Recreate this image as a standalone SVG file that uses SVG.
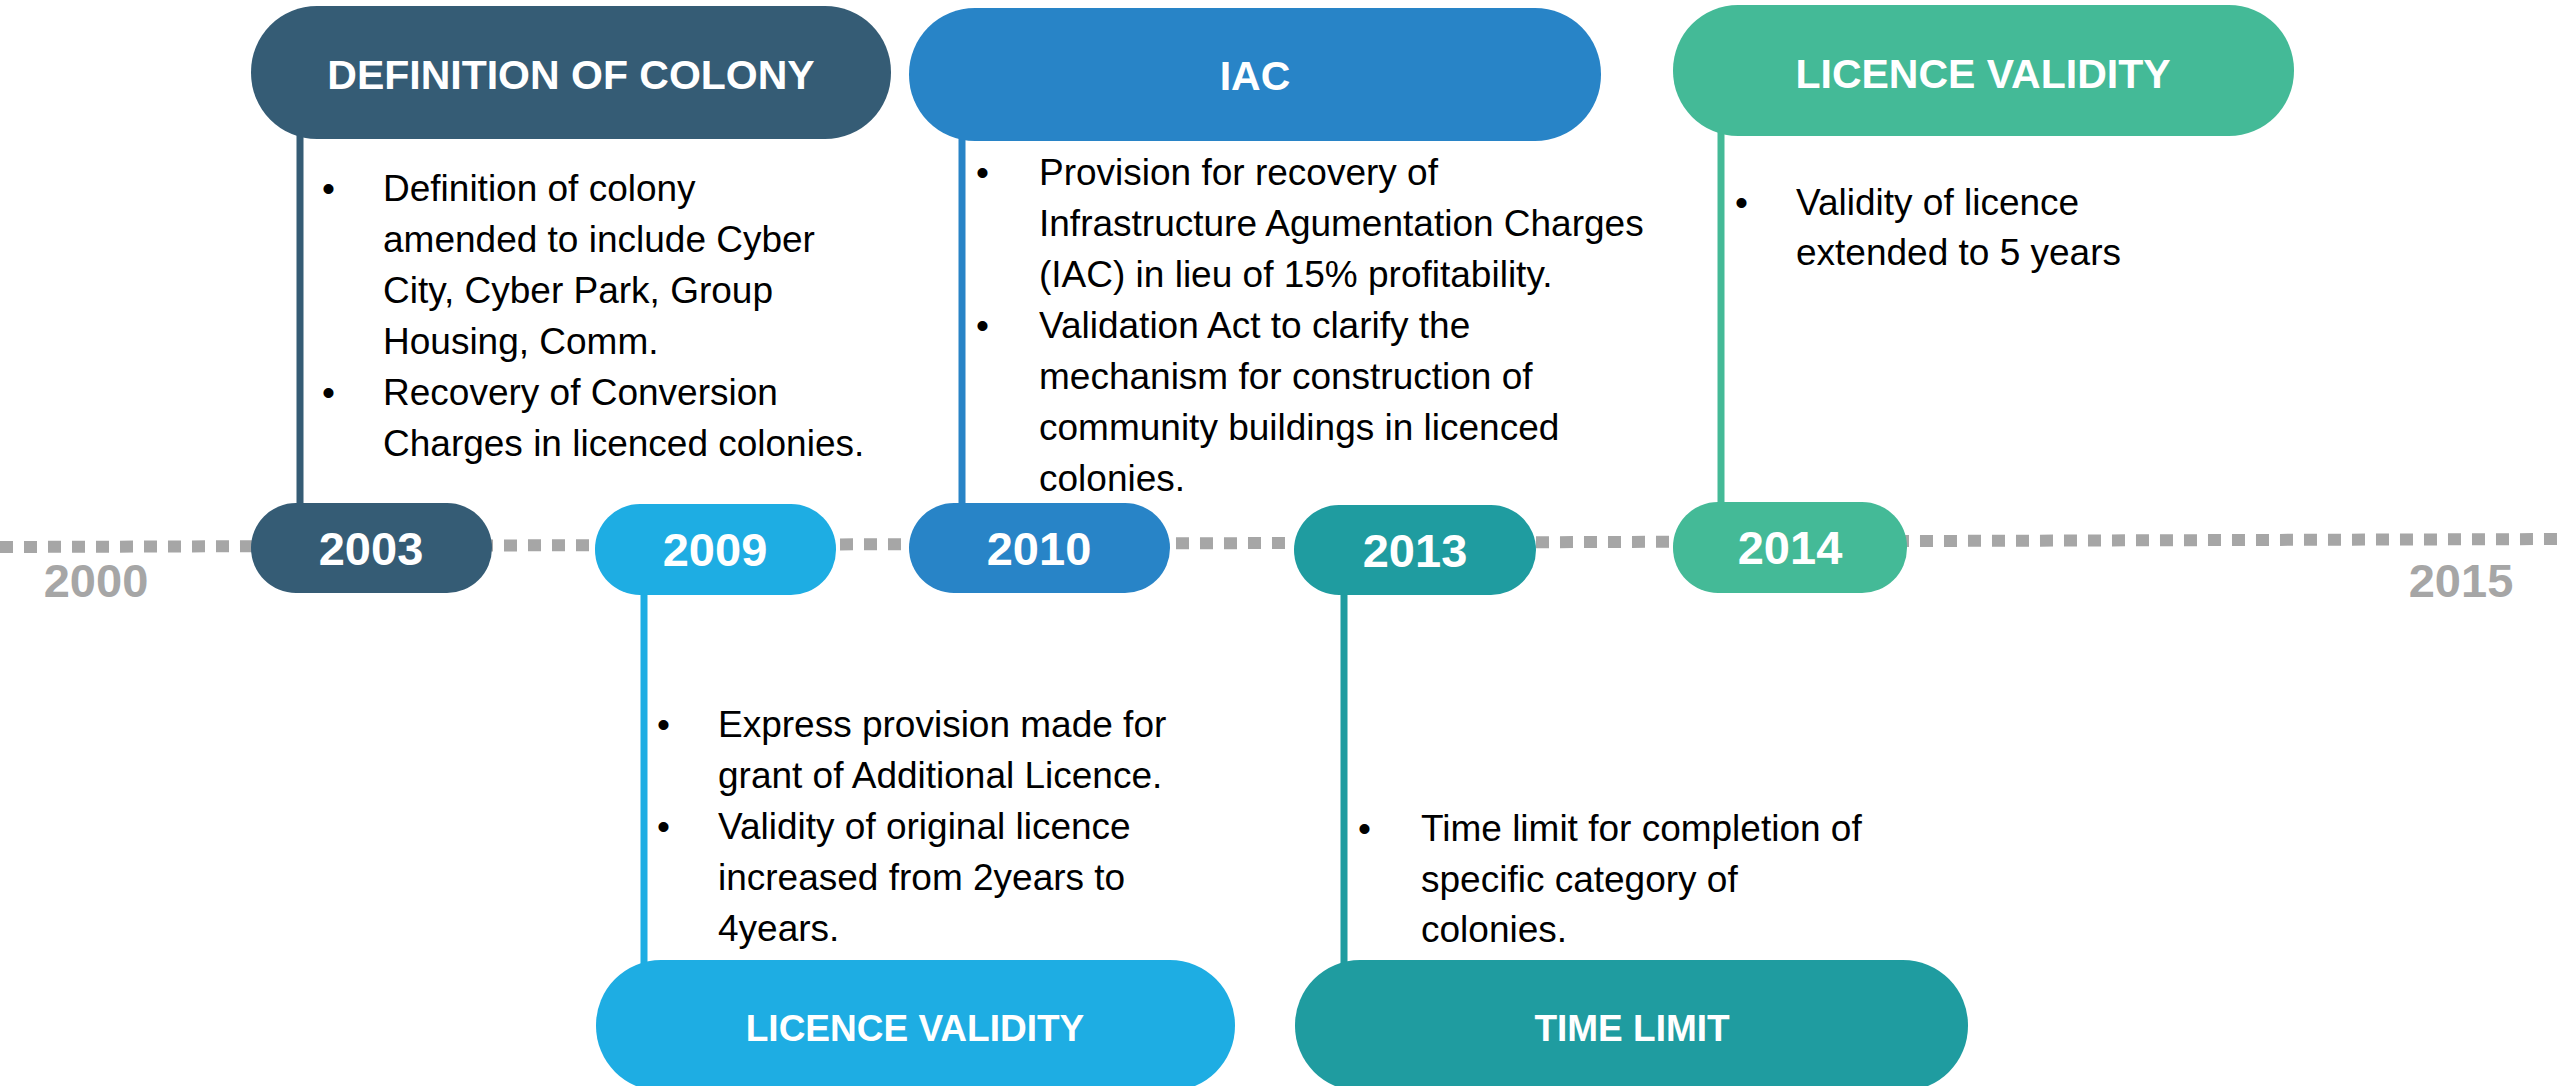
<svg xmlns="http://www.w3.org/2000/svg" width="2560" height="1086" viewBox="0 0 2560 1086">
<style>
.body{font-family:"Liberation Sans",Arial,sans-serif;font-size:37px;fill:#000}
.title{font-family:"Liberation Sans",Arial,sans-serif;font-weight:bold;font-size:41px;fill:#fff;text-anchor:middle}
.btitle{font-family:"Liberation Sans",Arial,sans-serif;font-weight:bold;font-size:37px;fill:#fff;text-anchor:middle}
.year{font-family:"Liberation Sans",Arial,sans-serif;font-weight:bold;font-size:47px;fill:#fff;text-anchor:middle}
.axis{font-family:"Liberation Sans",Arial,sans-serif;font-weight:bold;font-size:47px;fill:#A6A6A6;text-anchor:middle}
.c1{fill:#355C75}.c2{fill:#1EADE3}.c3{fill:#2884C7}.c4{fill:#1F9CA0}.c5{fill:#44BA97}
.l1{stroke:#355C75}.l2{stroke:#1EADE3}.l3{stroke:#2884C7}.l4{stroke:#1F9CA0}.l5{stroke:#44BA97}
.vl{stroke-width:7;fill:none}
</style>
<rect width="2560" height="1086" fill="#fff"/>
<g id="timeline">
<line x1="0" y1="547" x2="2560" y2="539" stroke="#A6A6A6" stroke-width="12" stroke-dasharray="13 11"/>
<text class="axis" x="96" y="597">2000</text>
<text class="axis" x="2461" y="597">2015</text>
</g>
<g id="connectors">
<line class="vl l1" x1="300" y1="130" x2="300" y2="510"/>
<line class="vl l3" x1="962" y1="130" x2="962" y2="510"/>
<line class="vl l5" x1="1721" y1="130" x2="1721" y2="510"/>
<line class="vl l2" x1="644" y1="590" x2="644" y2="965"/>
<line class="vl l4" x1="1344" y1="590" x2="1344" y2="965"/>
</g>
<g id="node-2003">
<rect class="c1" x="251" y="6" width="640" height="133" rx="66"/>
<text class="title" x="571" y="89">DEFINITION OF COLONY</text>
<rect class="c1" x="251" y="503" width="241" height="90" rx="45"/>
<text class="year" x="371" y="565">2003</text>
<text class="body" x="322" y="201">•</text>
<text class="body" x="383" y="201">Definition of colony</text>
<text class="body" x="383" y="252">amended to include Cyber</text>
<text class="body" x="383" y="303">City, Cyber Park, Group</text>
<text class="body" x="383" y="354">Housing, Comm.</text>
<text class="body" x="322" y="405">•</text>
<text class="body" x="383" y="405">Recovery of Conversion</text>
<text class="body" x="383" y="456">Charges in licenced colonies.</text>
</g>
<g id="node-2009">
<rect class="c2" x="595" y="504" width="241" height="91" rx="45"/>
<text class="year" x="715" y="566">2009</text>
<rect class="c2" x="596" y="960" width="639" height="131" rx="65"/>
<text class="btitle" x="915" y="1041">LICENCE VALIDITY</text>
<text class="body" x="657" y="737">•</text>
<text class="body" x="718" y="737">Express provision made for</text>
<text class="body" x="718" y="788">grant of Additional Licence.</text>
<text class="body" x="657" y="839">•</text>
<text class="body" x="718" y="839">Validity of original licence</text>
<text class="body" x="718" y="890">increased from 2years to</text>
<text class="body" x="718" y="941">4years.</text>
</g>
<g id="node-2010">
<rect class="c3" x="909" y="8" width="692" height="133" rx="66"/>
<text class="title" x="1255" y="90">IAC</text>
<rect class="c3" x="909" y="503" width="261" height="90" rx="45"/>
<text class="year" x="1039" y="565">2010</text>
<text class="body" x="976" y="185">•</text>
<text class="body" x="1039" y="185">Provision for recovery of</text>
<text class="body" x="1039" y="236">Infrastructure Agumentation Charges</text>
<text class="body" x="1039" y="287">(IAC) in lieu of 15% profitability.</text>
<text class="body" x="976" y="338">•</text>
<text class="body" x="1039" y="338">Validation Act to clarify the</text>
<text class="body" x="1039" y="389">mechanism for construction of</text>
<text class="body" x="1039" y="440">community buildings in licenced</text>
<text class="body" x="1039" y="491">colonies.</text>
</g>
<g id="node-2013">
<rect class="c4" x="1294" y="505" width="242" height="90" rx="45"/>
<text class="year" x="1415" y="567">2013</text>
<rect class="c4" x="1295" y="960" width="673" height="131" rx="65"/>
<text class="btitle" x="1632" y="1041">TIME LIMIT</text>
<text class="body" x="1358" y="841">•</text>
<text class="body" x="1421" y="841">Time limit for completion of</text>
<text class="body" x="1421" y="892">specific category of</text>
<text class="body" x="1421" y="942">colonies.</text>
</g>
<g id="node-2014">
<rect class="c5" x="1673" y="5" width="621" height="131" rx="65"/>
<text class="title" x="1983" y="88">LICENCE VALIDITY</text>
<rect class="c5" x="1673" y="502" width="234" height="91" rx="45"/>
<text class="year" x="1790" y="564">2014</text>
<text class="body" x="1735" y="215">•</text>
<text class="body" x="1796" y="215">Validity of licence</text>
<text class="body" x="1796" y="265">extended to 5 years</text>
</g>
</svg>
